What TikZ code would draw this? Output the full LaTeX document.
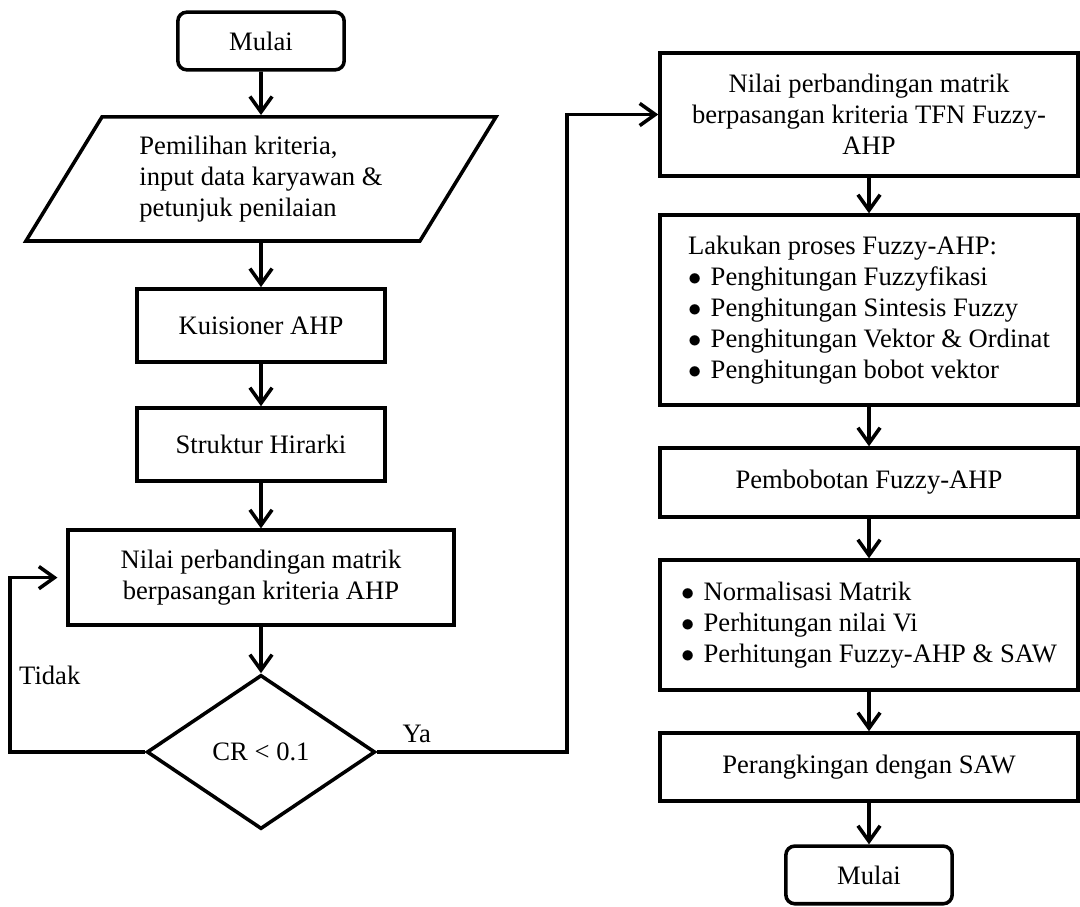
\documentclass[tikz,border=0pt]{standalone}
\usepackage{fontspec}
\setmainfont{Liberation Serif}
\usetikzlibrary{arrows.meta, positioning, shapes.geometric}

\newcommand{\itembullet}{$\bullet$\hspace{0.35em}}

\begin{document}
\begin{tikzpicture}[
        x=0.451pt, y=-0.451pt,
        node distance = 20pt,
        font=\fontsize{12}{14}\selectfont,
        terminal/.style = {
            rectangle,
            rounded corners=4pt,
            draw=black,
            line width=1.6pt,
            minimum width=75pt,
            minimum height=26pt
        },
        process/.style = {
            rectangle,
            draw=black,
            line width=1.6pt,
            minimum width=112pt,
            minimum height=33pt,
            align=center
        },
        wide/.style = {
            process,
            minimum width=188.5pt
        },
        io/.style = {
            trapezium,
            trapezium left angle=53,
            trapezium right angle=127,
            trapezium stretches body,
            draw=black,
            line width=1.6pt,
            minimum width=212pt,
            minimum height=56pt,
            align=left
        },
        decision/.style = {
            diamond,
            draw=black,
            line width=1.6pt,
            aspect=1.48,
            minimum width=103pt,
            minimum height=69.5pt
        },
        arrow/.style = {
            -{Straight Barb[length=7pt,width=10pt]},
            line width=1.6pt
        }
    ]
    \useasboundingbox (0,0) rectangle (1080,906);

    % Left column
    \node[terminal] (start) at (261,41) {Mulai};
    \node[io, below=19.6pt of start] (input)
        {Pemilihan kriteria,\\input data karyawan \&\\petunjuk penilaian};
    \node[process, below=20pt of input] (kuis) {Kuisioner AHP};
    \node[process, below=19.1pt of kuis] (hirarki) {Struktur Hirarki};
    \node[process, minimum width=174pt, minimum height=42.8pt, below=20.5pt of hirarki] (ahp)
        {Nilai perbandingan matrik\\berpasangan kriteria AHP};
    \node[decision, below=20.9pt of ahp] (cr) {CR < 0.1};

    % Right column
    \node[wide, minimum height=55.5pt] (tfn) at (869,114.5)
        {Nilai perbandingan matrik\\berpasangan kriteria TFN Fuzzy-\\AHP};
    \node[wide, minimum height=85.7pt, align=left, below=16pt of tfn] (fahp)
        {Lakukan proses Fuzzy-AHP:\\
         \itembullet Penghitungan Fuzzyfikasi\\
         \itembullet Penghitungan Sintesis Fuzzy\\
         \itembullet Penghitungan Vektor \& Ordinat\\
         \itembullet Penghitungan bobot vektor};
    \node[wide, minimum height=31.1pt, below=17.8pt of fahp] (bobot) {Pembobotan Fuzzy-AHP};
    \node[wide, minimum height=58.6pt, align=left, below=17.8pt of bobot] (saw)
        {\itembullet Normalisasi Matrik\\
         \itembullet Perhitungan nilai Vi\\
         \itembullet Perhitungan Fuzzy-AHP \& SAW};
    \node[wide, minimum height=30.7pt, below=17.8pt of saw] (rank) {Perangkingan dengan SAW};
    \node[terminal, below=18.7pt of rank] (stop) {Mulai};

    % Arrows
    \draw[arrow] (start)   -- (input);
    \draw[arrow] (input)   -- (kuis);
    \draw[arrow] (kuis)    -- (hirarki);
    \draw[arrow] (hirarki) -- (ahp);
    \draw[arrow] (ahp)     -- (cr);
    \draw[arrow, shorten >=4pt] (cr.west) -- ++(-135,0)
        |- node[right, pos=0.22] {Tidak} (ahp.west);
    \draw[arrow] (cr.east) -- node[above, pos=0.21] {Ya} ++(190,0) |- (tfn.west);
    \draw[arrow] (tfn)   -- (fahp);
    \draw[arrow] (fahp)  -- (bobot);
    \draw[arrow] (bobot) -- (saw);
    \draw[arrow] (saw)   -- (rank);
    \draw[arrow] (rank)  -- (stop);

\end{tikzpicture}
\end{document}
